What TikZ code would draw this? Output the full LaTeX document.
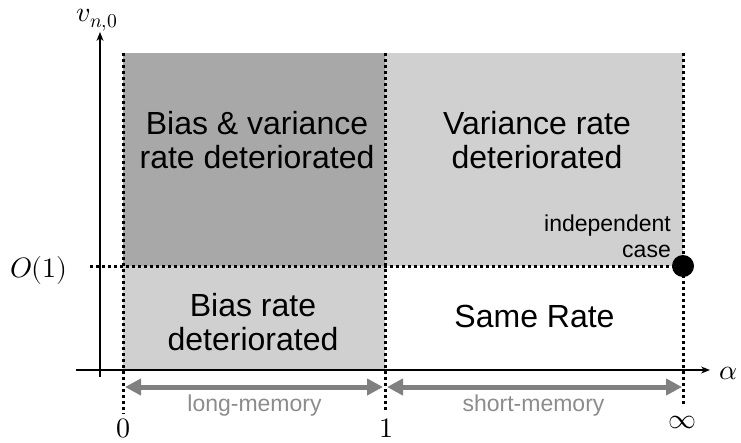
\documentclass[tikz,border=0pt]{standalone}
\usepackage{fontspec}
\usepackage{unicode-math}
\setmainfont{Liberation Sans}
\setmathfont{Latin Modern Math}
\usetikzlibrary{arrows.meta}
\definecolor{darkreg}{HTML}{A9A8A8}
\definecolor{lightreg}{HTML}{D0D0D0}
\definecolor{rangegray}{HTML}{808080}
\definecolor{rangetext}{HTML}{8C8C8C}
\tikzset{
  bigtext/.style={font=\fontsize{32}{34}\selectfont, align=center, text=black, inner sep=0pt, anchor=base},
  smalltext/.style={font=\fontsize{23}{26}\selectfont, inner sep=0pt, anchor=base},
  dotline/.style={line width=3pt, dash pattern=on 3pt off 3pt, black},
  axis/.style={line width=1.3pt, -{Stealth[length=9pt,width=7pt]}},
  rangearrow/.style={line width=5pt, rangegray, {Triangle[length=16pt,width=16pt]}-{Triangle[length=16pt,width=16pt]}},
  mathlbl/.style={font=\fontsize{28}{32}\selectfont, inner sep=0pt},
}
\begin{document}
\begin{tikzpicture}[x=1pt,y=-1pt]
\useasboundingbox (0,0) rectangle (741,442);
% regions
\fill[darkreg] (123,53) rectangle (385,266);
\fill[lightreg] (123,266) rectangle (385,370);
\fill[lightreg] (385,53) rectangle (683,266);
% coordinates
\coordinate (yb) at (100,377);
\coordinate (yt) at (100,32);
\coordinate (xl) at (76,370);
\coordinate (xr) at (710,370);
\coordinate (v0t) at (123,53);
\coordinate (v0b) at (123,414);
\coordinate (v1t) at (385,53);
\coordinate (v1b) at (385,412);
\coordinate (vit) at (683,53);
\coordinate (vib) at (683,404);
\coordinate (hl) at (90,266);
\coordinate (hr) at (683,266);
\coordinate (la) at (125,387);
\coordinate (lb) at (383,387);
\coordinate (sa) at (387,387);
\coordinate (sb) at (682,387);
% axes
\draw[axis] (yb) -- (yt);
\draw[axis] (xl) -- (xr);
% dotted lines
\draw[dotline] (v0t) -- (v0b);
\draw[dotline] (v1t) -- (v1b);
\draw[dotline] (vit) -- (vib);
\draw[dotline] (hl) -- (hr);
% independent point
\node[circle, fill=black, minimum size=22pt, inner sep=0pt] (ind) at (683,266) {};
% range arrows
\draw[rangearrow] (la) -- (lb);
\draw[rangearrow] (sa) -- (sb);
\node[smalltext, text=rangetext] (lm) at (254.5,411) {long-memory};
\node[smalltext, text=rangetext] (sm) at (533.5,411) {short-memory};
% region texts
\node[bigtext] (bv) at (257,168) {Bias \& variance\\rate deteriorated};
\node[bigtext] (vr) at (537,168) {Variance rate\\deteriorated};
\node[bigtext] (br) at (253,350) {Bias rate\\deteriorated};
\node[bigtext] (sr) at (534.5,327) {Same Rate};
\node[smalltext, align=right, anchor=base east] (ic) at (671,257) {independent\\case};
% axis labels
\node[mathlbl, anchor=base] (vlab) at (97,21) {$v_{n,0}$};
\node[mathlbl] (olab) at (39,270) {$O(1)$};
\node[mathlbl] (alab) at (728,373) {$\alpha$};
\node[mathlbl, anchor=base] (z) at (123,437) {$0$};
\node[mathlbl, anchor=base] (one) at (386,437) {$1$};
\node[mathlbl] (inf) at (682,422) {$\infty$};
\end{tikzpicture}
\end{document}
